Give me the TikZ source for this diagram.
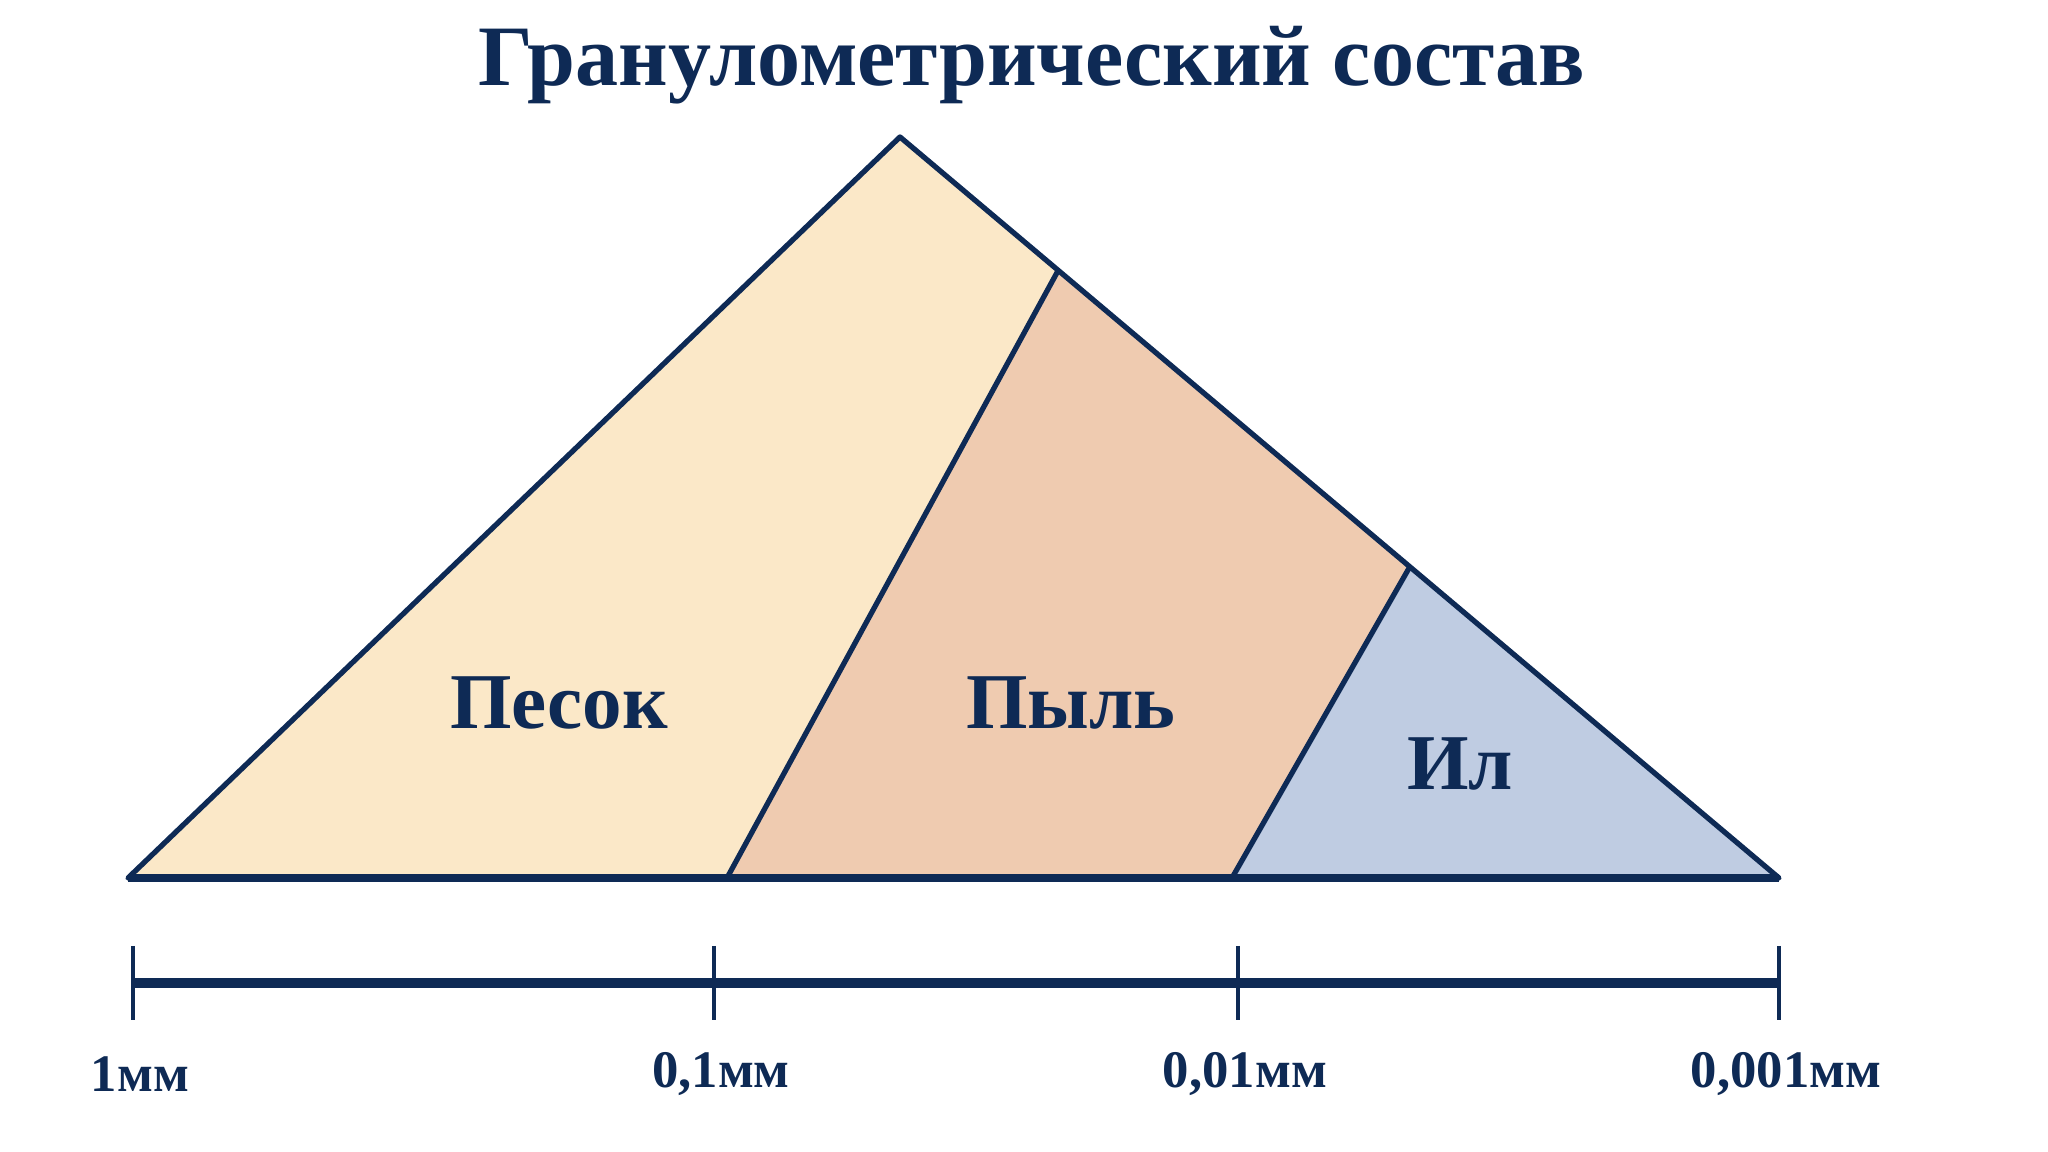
\documentclass[tikz,border=0pt]{standalone}
\usepackage{fontspec}
\setmainfont{Liberation Serif}
\usetikzlibrary{calc}

\definecolor{navy}{HTML}{0E2A55}
\definecolor{sandfill}{HTML}{FBE8C8}
\definecolor{siltfill}{HTML}{EFCBB0}
\definecolor{clayfill}{HTML}{BFCCE2}

\tikzset{
  edge/.style={navy, line width=1.5pt, line join=round},
  zonelabel/.style={navy, font=\bfseries\fontsize{22.5}{26}\selectfont},
  ticklabel/.style={navy, font=\bfseries\fontsize{15}{18}\selectfont},
}

\begin{document}
\begin{tikzpicture}
  \useasboundingbox (0,0) rectangle (20.48,11.52);

  % title
  \node[navy, font=\bfseries\fontsize{24.5}{30}\selectfont] (title) at (10.32,10.87) {Гранулометрический состав};

  % triangle corners and zone borders
  \coordinate (apex) at (9.00,10.15);
  \coordinate (left) at (1.28,2.74);
  \coordinate (right) at (17.79,2.74);
  \coordinate (silttop) at ($(apex)!0.18!(right)$);
  \coordinate (claytop) at ($(apex)!0.58!(right)$);
  \coordinate (siltbot) at (7.27,2.74);
  \coordinate (claybot) at (12.32,2.74);

  \fill[sandfill] (left) -- (apex) -- (silttop) -- (siltbot) -- cycle;
  \fill[siltfill] (siltbot) -- (silttop) -- (claytop) -- (claybot) -- cycle;
  \fill[clayfill] (claybot) -- (claytop) -- (right) -- cycle;

  \draw[edge] (left) -- (apex) -- (right) -- cycle;
  \draw[edge] (silttop) -- (siltbot);
  \draw[edge] (claytop) -- (claybot);
  \draw[navy, line width=2.2pt] (left) -- (right);

  \node[zonelabel] (sand) at (5.59,4.49) {Песок};
  \node[zonelabel] (silt) at (10.71,4.49) {Пыль};
  \node[zonelabel] (clay) at (14.60,3.88) {Ил};

  % size scale
  \foreach \x/\lab/\n in {1.33/{1мм}/1, 7.14/{0,1мм}/2, 12.38/{0,01мм}/3, 17.79/{0,001мм}/4} {
    \coordinate (tick\n) at (\x,1.69);
    \draw[navy, line width=1.2pt] ($(tick\n)+(0,0.37)$) -- ($(tick\n)+(0,-0.37)$);
    \node[ticklabel] (lab\n) at ($(tick\n)+(0.07,-0.91)$) {\lab};
  }
  \draw[navy, line width=2.6pt] (tick1) -- (tick4);

\end{tikzpicture}
\end{document}
